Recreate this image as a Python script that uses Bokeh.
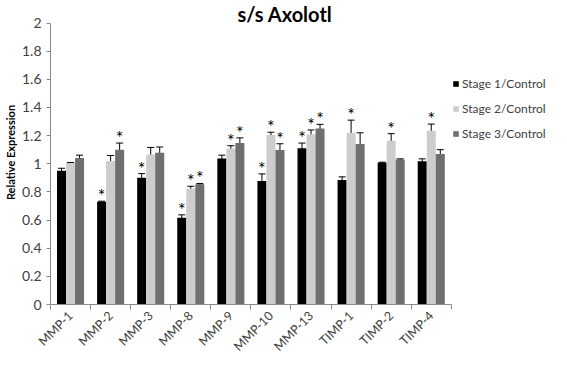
import math
from bokeh.plotting import figure
from bokeh.models import (Range1d, FixedTicker, CustomJSTickFormatter, Whisker, TeeHead,
                          ColumnDataSource, Legend, LegendItem)
from bokeh.embed import file_html
from bokeh.resources import INLINE
from bokeh.core.properties import value

categories = ["MMP-1", "MMP-2", "MMP-3", "MMP-8", "MMP-9", "MMP-10", "MMP-13", "TIMP-1", "TIMP-2", "TIMP-4"]
series_names = ["Stage 1/Control", "Stage 2/Control", "Stage 3/Control"]

stage1 = [0.95, 0.73, 0.90, 0.617, 1.037, 0.878, 1.11, 0.885, 1.008, 1.017]
stage1_err = [0.018, 0.004, 0.03, 0.02, 0.024, 0.05, 0.037, 0.022, 0.003, 0.018]
stage1_sig = [False, True, True, True, False, True, True, False, False, False]

stage2 = [1.005, 1.019, 1.066, 0.825, 1.108, 1.204, 1.21, 1.22, 1.164, 1.235]
stage2_err = [0.004, 0.04, 0.05, 0.015, 0.02, 0.02, 0.03, 0.09, 0.05, 0.047]
stage2_sig = [False, False, False, True, True, True, True, True, True, True]

stage3 = [1.041, 1.10, 1.079, 0.854, 1.148, 1.097, 1.25, 1.14, 1.03, 1.07]
stage3_err = [0.02, 0.047, 0.04, 0.006, 0.036, 0.045, 0.03, 0.08, 0.005, 0.03]
stage3_sig = [False, True, False, True, True, True, True, False, False, False]

y_ticks = [0, 0.2, 0.4, 0.6, 0.8, 1.0, 1.2, 1.4, 1.6, 1.8, 2.0]
title_text = "s/s Axolotl"
y_label = "Relative Expression"

colors = ["#000000", "#cdcdcd", "#6f6f6f"]
offsets = [-0.225, 0.0, 0.225]
bar_w = 0.225
FONT = "Lato"
AXIS_COLOR = "#8c8c8c"
TEXT_COLOR = "#404040"

n = len(categories)
W, H = 551, 362
p = figure(width=W, height=H, x_range=Range1d(0, 12.5), y_range=Range1d(0, 2.16),
           output_backend="svg", toolbar_location=None,
           min_border_left=49, min_border_right=0, min_border_top=0, min_border_bottom=0)
p.grid.visible = False
p.outline_line_color = None
p.background_fill_color = "white"
p.border_fill_color = "white"

# x axis: labels at category centres, tick marks at category boundaries
xa = p.xaxis[0]
xa.ticker = FixedTicker(ticks=[i + 0.5 for i in range(n)], minor_ticks=list(range(n + 1)))
xa.formatter = CustomJSTickFormatter(args=dict(names=categories),
                                     code="const i = Math.round(tick - 0.5); return names[i] || '';")
xa.bounds = (0, n)
xa.major_tick_in = 0
xa.major_tick_out = 0
xa.minor_tick_in = 0
xa.minor_tick_out = 5
xa.minor_tick_line_color = AXIS_COLOR
xa.axis_line_color = AXIS_COLOR
xa.major_label_orientation = math.pi / 4
xa.major_label_standoff = 4
xa.major_label_text_font = FONT
xa.major_label_text_font_size = "12.5px"
xa.major_label_text_color = TEXT_COLOR

# y axis
ya = p.yaxis[0]
ya.ticker = FixedTicker(ticks=y_ticks)
ya.formatter = CustomJSTickFormatter(code="return tick.toFixed(1).replace(/\\.0$/, '');")
ya.bounds = (0, 2)
ya.major_tick_in = 0
ya.major_tick_out = 4
ya.major_tick_line_color = AXIS_COLOR
ya.minor_tick_line_color = None
ya.axis_line_color = AXIS_COLOR
ya.major_label_text_font = FONT
ya.major_label_text_font_size = "14px"
ya.major_label_text_color = TEXT_COLOR
ya.major_label_standoff = 5
ya.axis_label = y_label
ya.axis_label_text_font = FONT
ya.axis_label_text_font_style = "bold"
ya.axis_label_text_font_size = "11px"
ya.axis_label_text_color = "black"
ya.axis_label_standoff = 2

vals = [stage1, stage2, stage3]
errs = [stage1_err, stage2_err, stage3_err]
sigs = [stage1_sig, stage2_sig, stage3_sig]

items = []
for k in range(3):
    xs = [i + 0.5 + offsets[k] for i in range(n)]
    upper = [v + e for v, e in zip(vals[k], errs[k])]
    lower = [v - e for v, e in zip(vals[k], errs[k])]
    src = ColumnDataSource(dict(x=xs, top=vals[k], upper=upper, lower=lower))
    r = p.vbar(x="x", top="top", width=bar_w, source=src, fill_color=colors[k], line_color=None)
    items.append(LegendItem(label=series_names[k], renderers=[r]))
    w = Whisker(source=src, base="x", upper="upper", lower="lower", dimension="height",
                line_color="black", line_width=1,
                upper_head=TeeHead(size=7, line_color="black", line_width=1),
                lower_head=TeeHead(size=7, line_color="black", line_width=1))
    p.add_layout(w)
    sx = [x for x, s in zip(xs, sigs[k]) if s]
    sy = [u for u, s in zip(upper, sigs[k]) if s]
    p.text(x=sx, y=sy, text=["*"] * len(sx), text_align="center", text_baseline="bottom",
           y_offset=5, text_font=value(FONT), text_font_size="18px", text_color="black")

legend = Legend(items=items, location=(402, 163), orientation="vertical",
                label_text_font=FONT, label_text_font_size="12px", label_text_color=TEXT_COLOR,
                glyph_width=7, glyph_height=7, spacing=10, padding=0, margin=0,
                label_standoff=3, border_line_color=None, background_fill_alpha=0)
p.add_layout(legend)

# chart title, centred over the chart area
p.text(x=[5.85], y=[2.064], text=[title_text], text_align="center", text_baseline="middle",
       text_font=value(FONT), text_font_style="bold", text_font_size="20px", text_color="black")

open("out.html", "w").write(file_html(p, INLINE))
